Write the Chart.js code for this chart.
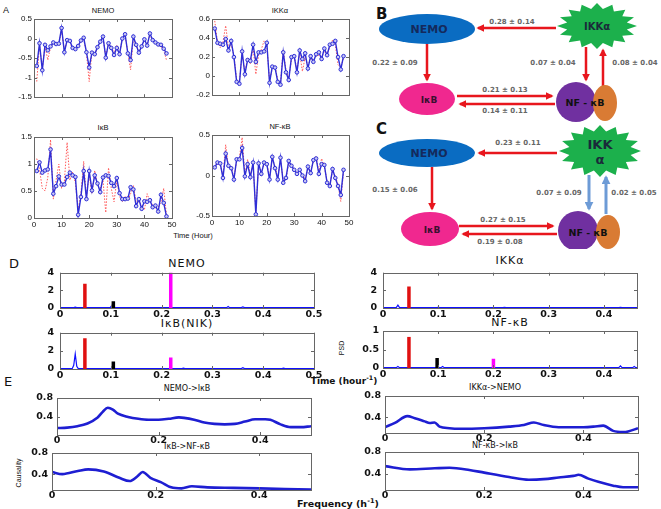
<!DOCTYPE html>
<html>
<head>
<meta charset="utf-8">
<script src="https://cdn.jsdelivr.net/npm/chart.js@4"></script>
<style>
  body { margin: 0; background: #fff; }
  #fig { position: relative; width: 661px; height: 509px; overflow: hidden; font-family: "Liberation Sans", Arial, sans-serif; }
  #fig canvas { position: absolute; }
  .t { position: absolute; transform: translate(-50%, -50%); white-space: nowrap; line-height: 1; color: #111; }
  .s { font-size: 7.5px; }
  .d { font-family: "DejaVu Sans", sans-serif; font-size: 11px; letter-spacing: 1px; }
  .e { font-family: "DejaVu Sans", sans-serif; font-size: 8px; }
  .rot { transform: translate(-50%, -50%) rotate(-90deg); }
  sup { font-size: 70%; }
</style>
</head>
<body>
<div id="fig">
  <!-- panel letters and free text -->
  <div class="t" style="left:6px;top:10px;font-size:9px">A</div>
  <div class="t s" style="left:103px;top:11px">NEMO</div>
  <div class="t s" style="left:280px;top:11px">IKKα</div>
  <div class="t s" style="left:103px;top:128px">IκB</div>
  <div class="t s" style="left:280px;top:127px">NF-κB</div>
  <div class="t s" style="left:193px;top:236px">Time (Hour)</div>

  <div class="t" style="left:14px;top:263px;font-size:13px;font-family:'DejaVu Sans'">D</div>
  <div class="t d" style="left:187px;top:263px">NEMO</div>
  <div class="t d" style="left:187px;top:323px">IκB(NIK)</div>
  <div class="t d" style="left:510px;top:260px">IKKα</div>
  <div class="t d" style="left:510px;top:322px">NF-κB</div>
  <div class="t rot" style="left:341px;top:348px;font-size:7px">PSD</div>
  <div class="t" style="left:344px;top:380px;font-size:9px;font-weight:bold;font-family:'DejaVu Sans'">Time (hour<sup>-1</sup>)</div>

  <div class="t" style="left:8px;top:381px;font-size:13px;font-family:'DejaVu Sans'">E</div>
  <div class="t e" style="left:187px;top:389px">NEMO-&gt;IκB</div>
  <div class="t e" style="left:187px;top:447px">IκB-&gt;NF-κB</div>
  <div class="t e" style="left:495px;top:388px">IKKα-&gt;NEMO</div>
  <div class="t e" style="left:495px;top:446px">NF-κB-&gt;IκB</div>
  <div class="t rot" style="left:18px;top:473px;font-size:7px">Causality</div>
  <div class="t" style="left:338px;top:503px;font-size:9.5px;font-weight:bold;font-family:'DejaVu Sans'">Frequency (h<sup>-1</sup>)</div>

  <!-- network diagrams B and C -->
  <svg width="661" height="260" style="position:absolute;left:0;top:0" font-family="DejaVu Sans" font-weight="bold">
    <defs>
      <marker id="ar" viewBox="0 0 10 10" refX="8" refY="5" markerWidth="3.2" markerHeight="3.2" orient="auto"><path d="M0,0 L10,5 L0,10 z" fill="#e8161d"/></marker>
      <marker id="ab" viewBox="0 0 10 10" refX="8" refY="5" markerWidth="3" markerHeight="3" orient="auto"><path d="M0,0 L10,5 L0,10 z" fill="#6d9bd6"/></marker>
      <clipPath id="cut"><rect x="540" y="190" width="100" height="59"/></clipPath>
    </defs>
    <text x="376" y="19" font-size="15" fill="#111">B</text>
    <text x="376" y="134" font-size="15" fill="#111">C</text>

    <!-- B -->
    <ellipse cx="427" cy="29" rx="48" ry="15" fill="#0a6cc2"/>
    <text x="429" y="33" font-size="11" fill="#142a5c" text-anchor="middle">NEMO</text>
    <polygon id="starB" fill="#1cb04c"/>
    <text x="597" y="30" font-size="10" fill="#1a2a3a" text-anchor="middle">IKKα</text>
    <g stroke="#e8161d" stroke-width="2.5" marker-end="url(#ar)">
      <line x1="556" y1="28" x2="478" y2="28"/>
      <line x1="427" y1="44" x2="427" y2="80"/>
      <line x1="457" y1="96" x2="552" y2="96"/>
      <line x1="555" y1="104" x2="460" y2="104"/>
      <line x1="586" y1="47" x2="586" y2="80"/>
      <line x1="603" y1="86" x2="603" y2="50"/>
    </g>
    <ellipse cx="427" cy="99" rx="28" ry="16" fill="#f0288f"/>
    <text x="429" y="103" font-size="9" fill="#3a1030" text-anchor="middle">IκB</text>
    <circle cx="576" cy="102" r="20" fill="#7030a0"/>
    <ellipse cx="605" cy="103" rx="12" ry="18" fill="#d97b34"/>
    <text x="585" y="106" font-size="9.5" fill="#111" text-anchor="middle">NF - κB</text>
    <g font-size="7" fill="#666" text-anchor="middle">
      <text x="512" y="24">0.28 ± 0.14</text>
      <text x="395" y="65">0.22 ± 0.09</text>
      <text x="505" y="92">0.21 ± 0.13</text>
      <text x="505" y="113">0.14 ± 0.11</text>
      <text x="553" y="65">0.07 ± 0.04</text>
      <text x="635" y="65">0.08 ± 0.04</text>
    </g>

    <!-- C -->
    <ellipse cx="427" cy="153" rx="48" ry="14" fill="#0a6cc2"/>
    <text x="429" y="157" font-size="11" fill="#142a5c" text-anchor="middle">NEMO</text>
    <polygon id="starC" fill="#1cb04c"/>
    <text x="600" y="149" font-size="13" fill="#1a2a3a" text-anchor="middle">IKK</text>
    <text x="600" y="164" font-size="13" fill="#1a2a3a" text-anchor="middle">α</text>
    <g stroke="#e8161d" stroke-width="2.5" marker-end="url(#ar)">
      <line x1="557" y1="153" x2="479" y2="153"/>
      <line x1="432" y1="167" x2="432" y2="209"/>
      <line x1="459" y1="226" x2="553" y2="226"/>
      <line x1="557" y1="234" x2="463" y2="234"/>
    </g>
    <ellipse cx="430" cy="229" rx="29" ry="17" fill="#f0288f"/>
    <text x="432" y="233" font-size="9" fill="#3a1030" text-anchor="middle">IκB</text>
    <circle cx="578" cy="231" r="20" fill="#7030a0" clip-path="url(#cut)"/>
    <ellipse cx="608" cy="232" rx="12" ry="17" fill="#d97b34"/>
    <text x="588" y="236" font-size="9.5" fill="#111" text-anchor="middle">NF - κB</text>
    <g stroke="#6d9bd6" stroke-width="3" marker-end="url(#ab)">
      <line x1="589" y1="175" x2="589" y2="209"/>
      <line x1="606" y1="214" x2="606" y2="177"/>
    </g>
    <g font-size="7" fill="#666" text-anchor="middle">
      <text x="518" y="145">0.23 ± 0.11</text>
      <text x="395" y="192">0.15 ± 0.06</text>
      <text x="503" y="222">0.27 ± 0.15</text>
      <text x="500" y="244">0.19 ± 0.08</text>
      <text x="559" y="195">0.07 ± 0.09</text>
      <text x="634" y="195">0.02 ± 0.05</text>
    </g>
  </svg>
</div>

<script>
// ---- Panel A: time series (blue = data, red dotted = fit) ---- //
const hours = [1,2,3,4,5,6,7,8,9,10,11,12,13,14,15,16,17,18,19,20,21,22,23,24,
               25,26,27,28,29,30,31,32,33,34,35,36,37,38,39,40,41,42,43,44,45,46,47,48];

const nemoData = [-0.70,-0.12,-0.81,-0.16,-0.30,-0.20,-0.10,-0.14,-0.13,0.27,-0.35,-0.04,-0.06,-0.24,-0.27,-0.19,
                  -0.05,0.02,-0.35,-0.74,-0.36,-0.40,-0.22,-0.08,0.05,-0.49,-0.12,-0.24,-0.42,-0.24,-0.40,0.00,
                  0.11,-0.38,-0.55,0.05,-0.16,-0.36,-0.20,-0.02,-0.18,0.13,-0.04,-0.10,-0.15,-0.16,-0.26,-0.38];
const nemoFit  = [-1.10,-0.15,-0.78,-0.20,-0.55,-0.22,-0.12,-0.12,-0.15,0.22,-0.30,-0.06,-0.08,-0.28,-0.25,-0.18,
                  -0.07,0.00,-0.38,-1.10,-0.33,-0.42,-0.20,-0.10,0.03,-0.45,-0.15,-0.20,-0.38,-0.18,-0.42,0.02,
                  0.08,-0.35,-0.80,0.02,-0.18,-0.33,-0.22,-0.04,-0.15,0.10,-0.06,-0.12,-0.17,-0.20,-0.30,-0.55];

const ikkData = [0.50,0.35,0.34,0.33,0.39,0.27,0.37,0.20,-0.06,-0.08,0.26,0.02,0.17,0.16,0.33,0.15,
                 0.25,0.25,0.26,0.35,-0.07,0.10,0.09,-0.06,-0.09,0.25,0.04,-0.04,0.20,0.21,0.04,0.27,
                 0.18,0.24,0.08,0.21,0.15,0.23,0.25,0.18,0.29,0.22,0.33,0.34,0.37,0.20,0.07,0.21];
const ikkFit  = [0.58,0.36,0.30,0.36,0.53,0.30,0.33,0.22,-0.04,-0.06,0.24,0.04,0.19,0.13,0.30,0.02,
                 0.22,0.28,0.37,0.33,-0.05,0.08,0.11,-0.04,-0.07,0.28,0.06,-0.02,0.17,0.22,0.06,0.24,
                 0.05,0.20,0.10,0.19,0.17,0.21,0.22,0.20,0.26,0.24,0.30,0.38,0.33,0.12,0.09,0.19];

const ikbData = [0.87,1.03,0.84,0.88,0.90,1.27,0.45,0.59,0.77,0.62,0.62,0.76,0.84,0.79,0.76,0.06,
                 0.39,0.87,0.35,0.87,0.51,0.79,0.64,0.48,0.75,0.79,0.78,0.65,0.59,0.74,0.46,0.35,
                 0.35,0.36,0.57,0.53,0.22,0.35,0.17,0.31,0.30,0.33,0.20,0.23,0.12,0.43,0.28,0.03];
const ikbFit  = [1.10,0.90,0.55,0.50,0.75,1.45,0.35,0.70,1.00,0.55,0.68,1.40,0.70,0.85,0.65,0.15,
                 0.45,1.05,0.40,0.80,0.45,0.88,0.60,0.55,0.70,0.10,0.93,0.55,0.30,0.70,0.40,0.30,
                 0.40,0.32,0.45,0.60,0.30,0.30,0.25,0.15,0.45,0.30,0.25,0.18,0.20,0.30,0.55,0.05];

const nfkbData = [0.10,0.16,0.15,-0.03,0.27,0.12,0.09,-0.05,0.20,0.20,0.34,-0.01,0.14,-0.02,0.16,-0.48,
                  0.15,0.02,0.16,0.14,-0.05,0.23,0.09,-0.05,0.22,-0.09,-0.03,0.18,0.12,0.07,0.02,0.07,
                  0.00,-0.07,0.11,0.03,0.19,0.21,0.02,0.14,0.13,-0.09,-0.13,0.08,-0.03,-0.13,-0.24,0.07];
const nfkbFit  = [0.12,0.14,0.13,-0.01,0.38,0.10,0.11,-0.03,0.18,0.22,0.47,0.01,0.20,0.00,0.14,-0.45,
                  0.13,0.04,0.14,0.16,-0.03,0.21,0.11,-0.03,0.20,-0.07,-0.05,0.16,0.14,0.05,0.04,0.05,
                  0.02,-0.05,0.09,0.05,0.17,0.24,0.04,0.21,0.11,-0.07,-0.11,0.06,-0.01,-0.11,-0.32,0.05];

// ---- Panel D: power spectra ---- //
const peakFreqLeft  = [0.049, 0.105, 0.218];
const peakFreqRight = [0.047, 0.098, 0.200];
const nemoPeaks = [2.75, 0.77, 4.6];
const ikbPeaks  = [3.4, 0.84, 1.27];
const ikkPeaks  = [2.45, 0, 0];
const nfkbPeaks = [0.84, 0.27, 0.25];

const nemoPsdF = [0, 0.027, 0.030, 0.033, 0.099, 0.102, 0.105, 0.108, 0.328, 0.331, 0.334, 0.357, 0.360, 0.363, 0.5];
const nemoPsd  = [0.04, 0.04, 0.10, 0.04, 0.04, 0.30, 0.35, 0.04, 0.04, 0.16, 0.04, 0.04, 0.13, 0.04, 0.04];
const ikbPsdF  = [0, 0.024, 0.027, 0.030, 0.033, 0.036, 0.240, 0.243, 0.246, 0.357, 0.360, 0.363, 0.437, 0.440, 0.443, 0.5];
const ikbPsd   = [0.04, 0.04, 0.40, 1.65, 0.30, 0.04, 0.04, 0.10, 0.04, 0.04, 0.14, 0.04, 0.04, 0.10, 0.04, 0.04];
const ikkPsdF  = [0, 0.024, 0.027, 0.030, 0.097, 0.100, 0.103, 0.217, 0.220, 0.223, 0.427, 0.430, 0.433, 0.46];
const ikkPsd   = [0.04, 0.04, 0.32, 0.04, 0.04, 0.08, 0.04, 0.04, 0.08, 0.04, 0.04, 0.07, 0.04, 0.04];
const nfkbPsdF = [0, 0.024, 0.027, 0.030, 0.105, 0.108, 0.111, 0.427, 0.430, 0.433, 0.452, 0.455, 0.458, 0.46];
const nfkbPsd  = [0.01, 0.01, 0.04, 0.01, 0.01, 0.04, 0.01, 0.01, 0.06, 0.01, 0.01, 0.04, 0.01, 0.01];

// ---- Panel E: spectral causality ---- //
const nemoIkbF = [0,0.02,0.04,0.06,0.08,0.09,0.10,0.11,0.12,0.14,0.16,0.18,0.20,0.22,0.24,0.25,0.27,0.29,0.31,0.33,0.35,0.37,0.39,0.41,0.42,0.44,0.46,0.48,0.50];
const nemoIkb  = [0.15,0.16,0.19,0.25,0.38,0.50,0.59,0.55,0.46,0.39,0.35,0.33,0.33,0.35,0.38,0.37,0.33,0.27,0.24,0.23,0.24,0.29,0.34,0.34,0.33,0.23,0.17,0.17,0.19];
const ikbNfkbF = [0,0.02,0.05,0.07,0.10,0.13,0.15,0.165,0.175,0.19,0.21,0.23,0.25,0.27,0.30,0.35,0.40,0.45,0.50];
const ikbNfkb  = [0.44,0.40,0.46,0.49,0.45,0.33,0.27,0.36,0.44,0.33,0.25,0.15,0.13,0.17,0.15,0.14,0.13,0.12,0.11];
const ikkNemoF = [0,0.02,0.045,0.06,0.08,0.09,0.10,0.11,0.13,0.15,0.20,0.25,0.28,0.30,0.32,0.35,0.40,0.42,0.44,0.46,0.48,0.49,0.51];
const ikkNemo  = [0.21,0.29,0.42,0.38,0.32,0.29,0.30,0.22,0.19,0.18,0.19,0.22,0.25,0.30,0.25,0.21,0.21,0.22,0.24,0.14,0.12,0.13,0.19];
const nfkbIkbF = [0,0.05,0.10,0.13,0.17,0.20,0.25,0.29,0.32,0.35,0.38,0.39,0.41,0.43,0.46,0.48,0.51];
const nfkbIkb  = [0.54,0.48,0.50,0.51,0.47,0.42,0.34,0.29,0.30,0.33,0.36,0.38,0.31,0.25,0.18,0.15,0.15];
const causalityTicks = [0.4, 0.8];

const peakColors = ["#e01010", "#000000", "#ff00ff"];

// --- Helpers ---
const fig = document.getElementById("fig");
const PAD = 10;

// matlab-like box with inward tick marks
const boxPlugin = {
  id: "box",
  afterDraw(chart) {
    const { ctx, chartArea: a, scales: { x, y } } = chart;
    ctx.save();
    ctx.strokeStyle = "#666";
    ctx.lineWidth = 1;
    ctx.strokeRect(Math.round(a.left) + 0.5, Math.round(a.top) + 0.5, Math.round(a.right - a.left), Math.round(a.bottom - a.top));
    ctx.beginPath();
    x.ticks.forEach(t => {
      const px = Math.round(x.getPixelForValue(t.value)) + 0.5;
      ctx.moveTo(px, a.bottom); ctx.lineTo(px, a.bottom - 3);
      ctx.moveTo(px, a.top); ctx.lineTo(px, a.top + 3);
    });
    y.ticks.forEach(t => {
      const py = Math.round(y.getPixelForValue(t.value)) + 0.5;
      ctx.moveTo(a.left, py); ctx.lineTo(a.left + 3, py);
      ctx.moveTo(a.right, py); ctx.lineTo(a.right - 3, py);
    });
    ctx.stroke();
    ctx.restore();
  }
};

// matlab style numbers: 1 not 1.0, 0.5, -1.5
const fmt = v => String(Math.round(v * 100) / 100);

function axis(min, max, step, font, pad, show) {
  return {
    type: "linear", min, max,
    grid: { display: false, drawTicks: false }, border: { display: false },
    ticks: { stepSize: step, includeBounds: false, font, color: "#111", padding: pad, display: show,
             maxRotation: 0, autoSkip: false, callback: fmt }
  };
}

function plot(box, yw, xh, datasets, x, y) {
  const w = box[2] - box[0] + yw + PAD, h = box[3] - box[1] + PAD + xh;
  const c = document.createElement("canvas");
  c.width = w; c.height = h;
  c.style.left = (box[0] - yw) + "px";
  c.style.top = (box[1] - PAD) + "px";
  c.style.width = w + "px"; c.style.height = h + "px";
  fig.appendChild(c);
  x.afterFit = s => { s.height = xh; };
  y.afterFit = s => { s.width = yw; };
  return new Chart(c, {
    type: "line",
    data: { datasets },
    options: {
      responsive: false, animation: false, events: [],
      layout: { padding: { top: PAD, right: PAD, left: 0, bottom: 0 } },
      plugins: { legend: { display: false }, tooltip: { enabled: false } },
      scales: { x, y }
    },
    plugins: [boxPlugin]
  });
}

const pairs = (xs, ys) => xs.map((v, i) => ({ x: v, y: ys[i] }));

// --- Panel A ---
const fontA = { family: "Liberation Sans", size: 8 };
function seriesA(data, fit) {
  return [
    { data: pairs(hours, data), borderColor: "#2e2ed6", borderWidth: 1.4, pointRadius: 1.8,
      pointBorderWidth: 1, pointBorderColor: "#2e2ed6", pointBackgroundColor: "#c8c8f4" },
    { data: pairs(hours, fit), borderColor: "#ff5a5a", borderWidth: 1, borderDash: [1.5, 1.5], pointRadius: 0 }
  ];
}
plot([34, 19, 172, 103], 22, 1, seriesA(nemoData, nemoFit), axis(0, 50, 10, fontA, 2, false), axis(-1.5, 0.5, 0.5, fontA, 2, true));
plot([212, 19, 349, 101], 22, 1, seriesA(ikkData, ikkFit), axis(0, 50, 10, fontA, 2, false), axis(-0.2, 0.6, 0.2, fontA, 2, true));
plot([34, 137, 172, 218], 22, 12, seriesA(ikbData, ikbFit), axis(0, 50, 10, fontA, 2, true), axis(0, 1.5, 0.5, fontA, 2, true));
plot([212, 135, 349, 216], 22, 12, seriesA(nfkbData, nfkbFit), axis(0, 50, 10, fontA, 2, true), axis(-0.5, 0.5, 0.5, fontA, 2, true));

// --- Panel D ---
const fontB = { family: "DejaVu Sans", size: 9.5, weight: "bold" };
function seriesD(freqs, psd, peakFreq, peaks) {
  const ds = [{ data: pairs(freqs, psd), borderColor: "#1010ff", borderWidth: 1.2, pointRadius: 0 }];
  peaks.forEach((h, i) => {
    if (h > 0) ds.unshift({ data: [{ x: peakFreq[i], y: 0 }, { x: peakFreq[i], y: h }],
                            borderColor: peakColors[i], borderWidth: 3.5, pointRadius: 0 });
  });
  return ds;
}
plot([60, 271, 314, 308], 24, 14, seriesD(nemoPsdF, nemoPsd, peakFreqLeft, nemoPeaks), axis(0, 0.5, 0.1, fontB, 1, true), axis(0, 4, 2, fontB, 6, true));
plot([60, 331, 314, 369], 24, 14, seriesD(ikbPsdF, ikbPsd, peakFreqLeft, ikbPeaks), axis(0, 0.5, 0.1, fontB, 1, true), axis(0, 4, 2, fontB, 6, true));
plot([383, 271, 637, 308], 24, 14, seriesD(ikkPsdF, ikkPsd, peakFreqRight, ikkPeaks), axis(0, 0.46, 0.1, fontB, 1, true), axis(0, 4, 2, fontB, 6, true));
plot([383, 331, 637, 368], 30, 14, seriesD(nfkbPsdF, nfkbPsd, peakFreqRight, nfkbPeaks), axis(0, 0.46, 0.1, fontB, 1, true), axis(0, 1, 0.5, fontB, 4, true));

// --- Panel E ---
function seriesE(freqs, vals) {
  return [{ data: pairs(freqs, vals), borderColor: "#1e1ed2", borderWidth: 2.6, pointRadius: 0,
            cubicInterpolationMode: "monotone" }];
}
function yCaus(min) {
  const y = axis(min, 0.8, 0.4, fontB, 4, true);
  y.afterBuildTicks = s => { s.ticks = causalityTicks.map(v => ({ value: v })); };
  return y;
}
plot([57, 398, 311, 435], 30, 14, seriesE(nemoIkbF, nemoIkb), axis(0, 0.5, 0.2, fontB, 0, true), yCaus(0));
plot([52, 453, 311, 490], 30, 14, seriesE(ikbNfkbF, ikbNfkb), axis(0, 0.5, 0.2, fontB, 0, true), yCaus(0.1));
plot([385, 396, 638, 433], 30, 14, seriesE(ikkNemoF, ikkNemo), axis(0, 0.51, 0.2, fontB, 0, true), yCaus(0.1));
plot([385, 452, 638, 490], 30, 14, seriesE(nfkbIkbF, nfkbIkb), axis(0, 0.51, 0.2, fontB, 0, true), yCaus(0.1));

// --- Stars for IKKα nodes ---
function starPoints(cx, cy, rx, ry, n, k) {
  const pts = [];
  for (let i = 0; i < 2 * n; i++) {
    const a = Math.PI * i / n - Math.PI / 2, r = i % 2 ? k : 1;
    pts.push((cx + rx * r * Math.cos(a)).toFixed(1) + "," + (cy + ry * r * Math.sin(a)).toFixed(1));
  }
  return pts.join(" ");
}
document.getElementById("starB").setAttribute("points", starPoints(597, 26, 40, 23, 16, 0.76));
document.getElementById("starC").setAttribute("points", starPoints(600, 151, 41, 26, 16, 0.76));
</script>
</body>
</html>
